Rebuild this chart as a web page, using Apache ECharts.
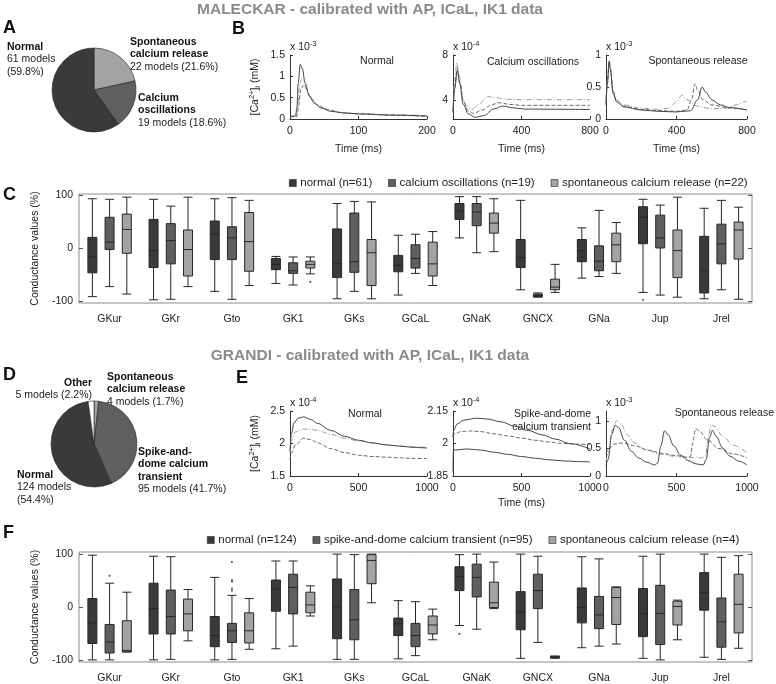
<!DOCTYPE html>
<html><head><meta charset="utf-8">
<script src="https://cdn.jsdelivr.net/npm/echarts@6/dist/echarts.min.js"></script>
<style>html,body{margin:0;padding:0;background:#fff}#c{width:776px;height:684px}</style>
</head><body><div id="c"></div><script>
const FONT = '"Liberation Sans", Arial, sans-serif';

// ---------------- DATA ----------------
// Pie A (MALECKAR)
const pieANames = ['Spontaneous calcium release', 'Calcium oscillations', 'Normal'];
const pieACounts = [22, 19, 61];
const pieAPct = [21.6, 18.6, 59.8];
// Pie D (GRANDI)
const pieDNames = ['Spontaneous calcium release', 'Spike-and-dome calcium transient', 'Normal', 'Other'];
const pieDCounts = [4, 95, 124, 5];
const pieDPct = [1.7, 41.7, 54.4, 2.2];

// Conductances (boxplots)
const conductances = ['GKur', 'GKr', 'Gto', 'GK1', 'GKs', 'GCaL', 'GNaK', 'GNCX', 'GNa', 'Jup', 'Jrel'];
const malGroupNames = ['normal (n=61)', 'calcium oscillations (n=19)', 'spontaneous calcium release (n=22)'];
// [min, Q1, median, Q3, max]
const malNormal = [[-91,-46,-16,21,94],[-97,-36,-4,55,93],[-81,-21,27,52,94],[-66,-40,-30,-19,-15],[-95,-55,-29,37,85],[-88,-44,-32,-13,25],[20,55,71,85,98],[-78,-36,-17,17,91],[-56,-25,-4,17,39],[-83,9,59,79,93],[-95,-84,-42,23,76]];
const malOsc = [[-72,-2,12,59,93],[-96,-29,15,47,80],[-96,-21,20,41,96],[-69,-47,-42,-27,-16],[-81,-45,-25,67,89],[-47,-37,-19,7,27],[-8,43,69,85,98],[-92,-91,-89,-86,-84],[-53,-42,-24,5,72],[-88,1,20,63,82],[-78,-29,9,46,91]];
const malSpont = [[-86,-9,36,65,97],[-72,-52,-2,35,97],[-70,-43,13,68,91],[-48,-37,-30,-24,-16],[-95,-70,-8,17,88],[-70,-52,-29,12,32],[-6,29,48,67,94],[-83,-78,-73,-58,-30],[-47,-25,7,29,49],[-92,-55,-4,35,97],[-96,-20,35,50,78]];
// outliers: [conductance index, group index, value]
const malOutliers = [[3,2,-63],[9,0,-97]];

const graGroupNames = ['normal (n=124)', 'spike-and-dome calcium transient (n=95)', 'spontaneous calcium release (n=4)'];
const graNormal = [[-100,-69,-30,16,98],[-100,-51,-3,45,96],[-100,-75,-54,-18,56],[-79,-8,34,51,87],[-99,-60,0,53,100],[-98,-54,-32,-21,12],[-35,31,58,76,99],[-97,-43,-10,29,100],[-77,-30,-1,36,95],[-97,-56,-13,35,96],[-95,-6,27,65,100]];
const graSpike = [[-100,-87,-66,-33,45],[-99,-51,-18,32,95],[-99,-67,-45,-31,22],[-74,-13,37,62,87],[-99,-62,-24,33,99],[-92,-75,-54,-31,10],[-42,19,56,81,100],[-67,-3,31,62,96],[-74,-41,-15,20,91],[-100,-71,-12,41,100],[-99,-76,-28,17,94]];
const graSpont = [[-85,-85,-82,-26,28],[-64,-45,-13,15,33],[-80,-68,-45,-11,16],[-17,-11,4,28,40],[8,44,88,99,100],[-62,-51,-34,-17,-4],[-3,-1,8,47,85],[-97,-96,-95,-93,-93],[-70,-33,18,37,38],[-62,-34,1,11,13],[-78,-49,5,62,97]];
const graOutliers = [[0,1,59],[2,1,85],[2,1,51],[2,1,48],[2,1,35],[2,1,31],[6,0,-51]];

// Calcium transients: [time ms, value]
// B1 Normal (x1e-3 mM)
const b1Solid = [[0,0.06],[8,0.07],[10,0.25],[12,0.85],[15,1.28],[18,1.18],[22,0.85],[28,0.55],[35,0.38],[45,0.26],[60,0.18],[80,0.14],[100,0.12],[150,0.09],[200,0.07]];
const b1DashDot = [[0,0.05],[9,0.06],[11,0.3],[14,0.8],[17,0.93],[20,0.88],[25,0.65],[32,0.45],[40,0.32],[50,0.24],[70,0.16],[100,0.12],[150,0.1],[200,0.08]];
const b1Dashed = [[0,0.05],[10,0.06],[12,0.25],[16,0.7],[19,0.78],[23,0.72],[30,0.5],[40,0.33],[55,0.22],[75,0.15],[100,0.12],[150,0.09],[200,0.06]];
// B2 Calcium oscillations (x1e-4 mM)
const b2DashDot = [[0,3.0],[8,5.5],[22,7.3],[35,6.2],[55,4.2],[80,3.4],[110,3.15],[150,3.6],[200,4.3],[250,4.2],[320,4.05],[400,4.02],[800,4.02]];
const b2Dashed = [[0,3.0],[10,5.2],[25,6.8],[40,5.6],[60,3.9],[90,3.0],[120,2.8],[170,3.1],[230,3.6],[270,3.75],[330,3.6],[400,3.52],[800,3.52]];
const b2Solid = [[0,2.9],[10,5.0],[25,6.6],[40,5.4],[60,3.6],[90,2.75],[130,2.45],[180,2.6],[240,3.2],[290,3.45],[350,3.3],[420,3.18],[800,3.15]];
// B3 Spontaneous release (x1e-3 mM)
const b3DashDot = [[0,0.3],[8,0.6],[18,0.92],[25,0.8],[40,0.45],[60,0.3],[100,0.22],[200,0.17],[300,0.15],[360,0.17],[400,0.27],[430,0.37],[460,0.3],[520,0.2],[600,0.16],[680,0.17],[740,0.22],[790,0.27],[800,0.27]];
const b3Dashed = [[0,0.25],[8,0.6],[18,0.9],[25,0.78],[40,0.42],[60,0.28],[100,0.2],[200,0.15],[300,0.13],[400,0.12],[460,0.14],[485,0.3],[505,0.55],[520,0.45],[550,0.3],[600,0.22],[700,0.17],[800,0.14]];
const b3Solid = [[0,0.22],[8,0.55],[18,0.9],[25,0.77],[40,0.4],[60,0.27],[100,0.19],[200,0.14],[300,0.12],[400,0.11],[480,0.13],[520,0.3],[545,0.5],[565,0.42],[600,0.3],[650,0.22],[700,0.18],[800,0.14]];
// E1 Normal (x1e-4 mM)
const e1Solid = [[0,1.88],[10,2.15],[30,2.32],[60,2.39],[100,2.41],[150,2.37],[200,2.31],[300,2.2],[400,2.11],[500,2.05],[600,2.01],[700,1.98],[800,1.96],[900,1.94],[1000,1.93]];
const e1DashDot = [[0,1.85],[10,2.05],[40,2.18],[100,2.22],[150,2.22],[200,2.2],[300,2.14],[400,2.08],[500,2.04],[600,2.01],[700,1.98],[800,1.96],[900,1.95],[1000,1.94]];
const e1Dashed = [[0,1.75],[10,1.85],[40,1.98],[100,2.08],[150,2.06],[200,2.01],[300,1.92],[400,1.86],[500,1.82],[600,1.8],[700,1.79],[800,1.78],[900,1.77],[1000,1.77]];
// E2 Spike-and-dome (x1e-4 mM)
const e2SolidHigh = [[0,2.03],[5,2.06],[30,2.09],[80,2.108],[170,2.117],[250,2.113],[350,2.1],[450,2.08],[550,2.06],[650,2.04],[750,2.02],[850,2.0],[1000,1.975]];
const e2Dashed = [[0,2.03],[10,2.045],[60,2.055],[120,2.058],[200,2.055],[300,2.045],[400,2.035],[500,2.025],[600,2.015],[700,2.007],[800,2.0],[900,1.997],[1000,1.995]];
const e2SolidLow = [[0,1.87],[3,1.97],[20,1.97],[100,1.975],[200,1.97],[300,1.96],[400,1.95],[500,1.94],[600,1.932],[700,1.925],[800,1.92],[900,1.917],[1000,1.915]];
// E3 Spontaneous release (x1e-3 mM)
const e3Solid = [[0,0.2],[15,0.3],[40,0.75],[65,0.92],[90,0.88],[130,0.65],[180,0.45],[230,0.33],[290,0.25],[345,0.2],[365,0.23],[390,0.55],[415,0.82],[440,0.75],[480,0.55],[530,0.38],[580,0.28],[640,0.22],[690,0.2],[710,0.3],[735,0.7],[755,0.83],[780,0.72],[830,0.5],[880,0.36],[940,0.27],[1000,0.2]];
const e3Dashed = [[0,0.4],[20,0.5],[60,0.58],[120,0.6],[200,0.55],[300,0.47],[400,0.41],[500,0.37],[580,0.34],[600,0.36],[615,0.6],[635,0.86],[660,0.82],[720,0.65],[800,0.5],[900,0.4],[1000,0.33]];
const e3DashDot = [[0,0.25],[20,0.45],[45,0.85],[75,1.0],[105,0.95],[150,0.75],[200,0.6],[280,0.48],[380,0.4],[480,0.36],[580,0.34],[680,0.33],[705,0.36],[725,0.7],[745,0.93],[770,0.9],[830,0.72],[900,0.56],[1000,0.42]];

// ---------------- LAYOUT / STYLE ----------------
const C_DARK = '#3a3a3a', C_MID = '#5f5f5f', C_LIGHT = '#a3a3a3';
const LINE_SOLID = '#454545', LINE_DASH = '#6a6a6a', LINE_DD = '#9a9a9a';
const subX = [290, 453, 606];
const subW = [137, 137, 141];
const gridsLine = [];
[55, 411].forEach(top => subX.forEach((x, i) => gridsLine.push({left: x, top: top, width: subW[i], height: top === 55 ? 64 : 65})));

const grids = [
  {left: 79, right: 24, top: 194, height: 109, show: true, borderColor: '#8c8c8c', borderWidth: 1},
  {left: 79, right: 24, top: 552, height: 110, show: true, borderColor: '#8c8c8c', borderWidth: 1},
  ...gridsLine
];

const xAxes = [], yAxes = [], series = [];

function boxAxes(gi, lim) {
  xAxes.push({gridIndex: gi, type: 'category', data: conductances, axisTick: {show: false},
    axisLine: {show: false}, axisLabel: {fontFamily: FONT, fontSize: 10.5, color: '#222', margin: 11}});
  const yBase = {gridIndex: gi, type: 'value', min: -lim, max: lim, splitLine: {show: false},
    axisLine: {show: false}};
  yAxes.push(Object.assign({}, yBase, {position: 'left',
    name: 'Conductance values (%)', nameLocation: 'middle', nameGap: 30, nameRotate: 90,
    nameTextStyle: {fontFamily: FONT, fontSize: 10.5, color: '#222'},
    axisTick: {show: true, inside: true, length: 4, lineStyle: {color: '#555'}, customValues: [-100, 0, 100]},
    axisLabel: {fontFamily: FONT, fontSize: 10.5, color: '#222', margin: 6, customValues: [-100, 0, 100]}}));
  yAxes.push(Object.assign({}, yBase, {position: 'right',
    axisTick: {show: true, inside: true, length: 4, lineStyle: {color: '#555'}, customValues: [-100, 0, 100]},
    axisLabel: {show: false}}));
}
boxAxes(0, 103);
boxAxes(1, 104);

const boxColors = [C_DARK, C_MID, C_LIGHT];
function addBoxSeries(names, groups, outliers, xi, yi) {
  groups.forEach((g, k) => {
    series.push({type: 'boxplot', name: names[k], xAxisIndex: xi, yAxisIndex: yi, data: g,
      boxWidth: [9, 9], silent: true,
      itemStyle: {color: boxColors[k], borderColor: '#262626', borderWidth: 1}});
  });
  // outliers placed with the same offsets ECharts uses for grouped boxplots
  const gridW = 776 - 79 - 24;
  const band = gridW / conductances.length;
  const avail = band * 0.8 - 2;
  const gap = avail / 3 * 0.3;
  const bw = (avail - gap * 2) / 3;
  [0, 1, 2].forEach(k => {
    const pts = outliers.filter(o => o[1] === k).map(o => [conductances[o[0]], o[2]]);
    if (!pts.length) return;
    series.push({type: 'scatter', xAxisIndex: xi, yAxisIndex: yi, data: pts, symbol: 'circle', symbolSize: 2.2,
      symbolOffset: [bw / 2 - avail / 2 + k * (gap + bw), 0], itemStyle: {color: '#333'}, silent: true});
  });
}
addBoxSeries(malGroupNames, [malNormal, malOsc, malSpont], malOutliers, 0, 0);
addBoxSeries(graGroupNames, [graNormal, graSpike, graSpont], graOutliers, 1, 2);

// line panels
const lineCfg = [
  {xmax: 200, xint: 100, ymin: 0, ymax: 1.5, yt: [0, 0.5, 1, 1.5], time: true, gap: 25, ylab: true, lines: [[b1Dashed, 'dash'], [b1DashDot, 'dd'], [b1Solid, 'solid']]},
  {xmax: 800, xint: 400, ymin: 2.3, ymax: 8, yt: [4, 8], time: true, gap: 25, ylab: false, lines: [[b2DashDot, 'dd'], [b2Dashed, 'dash'], [b2Solid, 'solid']]},
  {xmax: 800, xint: 400, ymin: 0, ymax: 1, yt: [0, 0.5, 1], time: true, gap: 25, ylab: false, lines: [[b3DashDot, 'dd'], [b3Dashed, 'dash'], [b3Solid, 'solid']]},
  {xmax: 1000, xint: 500, ymin: 1.5, ymax: 2.5, yt: [1.5, 2, 2.5], time: false, ylab: true, lines: [[e1Dashed, 'dash'], [e1DashDot, 'dd'], [e1Solid, 'solid']]},
  {xmax: 1000, xint: 500, ymin: 1.85, ymax: 2.15, yt: [1.85, 2, 2.15], time: true, gap: 22, ylab: false, lines: [[e2Dashed, 'dash'], [e2SolidHigh, 'solid'], [e2SolidLow, 'solid']]},
  {xmax: 1000, xint: 500, ymin: 0, ymax: 1.18, yt: [0, 0.5, 1], time: false, ylab: false, lines: [[e3DashDot, 'dd'], [e3Dashed, 'dash'], [e3Solid, 'solid']]}
];
const lineTypes = {
  solid: {type: 'solid', color: LINE_SOLID},
  dash: {type: [4, 2], color: LINE_DASH},
  dd: {type: [5, 2, 1, 2], color: LINE_DD}
};
lineCfg.forEach((c, i) => {
  const gi = 2 + i;
  const xi = xAxes.length, yi = yAxes.length;
  const axLine = {show: true, onZero: false, lineStyle: {color: '#333', width: 1}};
  xAxes.push({gridIndex: gi, type: 'value', min: 0, max: c.xmax, interval: c.xint,
    splitLine: {show: false}, axisLine: axLine,
    axisTick: {inside: true, length: 3, lineStyle: {color: '#333'}},
    axisLabel: {fontFamily: FONT, fontSize: 10.5, color: '#222', margin: 7, formatter: v => String(v)},
    name: c.time ? 'Time (ms)' : '', nameLocation: 'middle', nameGap: c.gap || 22,
    nameTextStyle: {fontFamily: FONT, fontSize: 10.5, color: '#222'}});
  yAxes.push({gridIndex: gi, type: 'value', min: c.ymin, max: c.ymax,
    splitLine: {show: false}, axisLine: axLine,
    axisTick: {inside: true, length: 3, lineStyle: {color: '#333'}, customValues: c.yt},
    axisLabel: {fontFamily: FONT, fontSize: 10.5, color: '#222', margin: 5, customValues: c.yt, formatter: v => String(v)},
    name: c.ylab ? '[Ca{sup|2+}]{sub|i} (mM)' : '', nameLocation: 'middle', nameGap: 28, nameRotate: 90,
    nameTextStyle: {fontFamily: FONT, fontSize: 10.5, color: '#222',
      rich: {sup: {fontSize: 7.5, verticalAlign: 'top', padding: [0, 0, 6, 0], fontFamily: FONT, color: '#222'},
             sub: {fontSize: 7.5, verticalAlign: 'bottom', padding: [4, 0, 0, 0], fontFamily: FONT, color: '#222'}}}});
  c.lines.forEach(([d, t]) => {
    series.push({type: 'line', xAxisIndex: xi, yAxisIndex: yi, data: d, showSymbol: false, silent: true,
      smooth: 0.35, smoothMonotone: 'x', clip: true,
      lineStyle: {width: 1, type: lineTypes[t].type, color: lineTypes[t].color}});
  });
});

// pies
const pieAColors = [C_LIGHT, C_MID, C_DARK];
const pieDColors = [C_LIGHT, C_MID, C_DARK, '#ffffff'];
function pie(names, counts, colors, center, r) {
  return {type: 'pie', center: center, radius: r, startAngle: 90, clockwise: true, silent: true,
    label: {show: false}, labelLine: {show: false},
    itemStyle: {borderColor: '#222', borderWidth: 0.6},
    data: names.map((n, i) => ({name: n, value: counts[i], itemStyle: {color: colors[i]}}))};
}
series.push(pie(pieANames, pieACounts, pieAColors, [94, 90], 42));
series.push(pie(pieDNames, pieDCounts, pieDColors, [94, 444], 43));

// ---------------- TEXT ----------------
const graphic = [];
function txt(x, y, text, opt) {
  graphic.push({type: 'text', x: x, y: y, silent: true,
    style: Object.assign({text: text, font: '10.5px ' + FONT, fill: '#222', verticalAlign: 'middle', textAlign: 'left'}, opt || {})});
}
function letter(x, y, s) { txt(x, y, s, {font: 'bold 18px ' + FONT, fill: '#111'}); }
letter(3, 28, 'A'); letter(232, 29, 'B'); letter(3, 195, 'C');
letter(3, 375, 'D'); letter(236, 378, 'E'); letter(3, 533, 'F');
txt(370, 10, 'MALECKAR - calibrated with AP, ICaL, IK1 data', {font: 'bold 15.5px ' + FONT, fill: '#8a8a8a', textAlign: 'center'});
txt(370, 356, 'GRANDI - calibrated with AP, ICaL, IK1 data', {font: 'bold 15.5px ' + FONT, fill: '#8a8a8a', textAlign: 'center'});

// pie labels built from the data arrays
function pieLabel(x, y, headLines, count, pct, split, align) {
  const countLines = split ? [count + ' models', '(' + pct + '%)'] : [count + ' models (' + pct + '%)'];
  const lines = headLines.map(h => '{b|' + h + '}').concat(countLines);
  txt(x, y, lines.join('\n'), {verticalAlign: 'top', textAlign: align || 'left', lineHeight: 12.3,
    rich: {b: {font: 'bold 10.5px ' + FONT, fill: '#111', lineHeight: 12.3}}});
}
pieLabel(7, 41, ['Normal'], pieACounts[2], pieAPct[2], true);
pieLabel(130, 36, ['Spontaneous', 'calcium release'], pieACounts[0], pieAPct[0], false);
pieLabel(138, 92, ['Calcium', 'oscillations'], pieACounts[1], pieAPct[1], false);

pieLabel(107, 371, ['Spontaneous', 'calcium release'], pieDCounts[0], pieDPct[0], false);
pieLabel(92, 377, ['Other'], pieDCounts[3], pieDPct[3], false, 'right');
pieLabel(138, 446, ['Spike-and-', 'dome calcium', 'transient'], pieDCounts[1], pieDPct[1], false);
pieLabel(17, 469, ['Normal'], pieDCounts[2], pieDPct[2], true);

// subplot titles
txt(377, 61, 'Normal', {textAlign: 'center'});
txt(533, 62, 'Calcium oscillations', {textAlign: 'center'});
txt(698, 61, 'Spontaneous release', {textAlign: 'center'});
txt(365, 414, 'Normal', {textAlign: 'center'});
txt(591, 414, 'Spike-and-dome', {textAlign: 'right'});
txt(591, 427, 'calcium transient', {textAlign: 'right'});
txt(774, 413, 'Spontaneous release', {textAlign: 'right'});
// exponents
const expRich = {s: {font: '7.5px ' + FONT, fill: '#222', padding: [0, 0, 7, 0]}};
[[subX[0], 47, '-3'], [subX[1], 47, '-4'], [subX[2], 47, '-3'], [subX[0], 403, '-4'], [subX[1], 403, '-4'], [subX[2], 403, '-3']]
  .forEach(([x, y, e]) => txt(x, y, 'x 10{s|' + e + '}', {rich: expRich}));

function legendData(names) {
  return names.map((n, k) => ({name: n, itemStyle: {color: boxColors[k], borderColor: '#262626', borderWidth: 0.6}}));
}
const legendBase = {itemWidth: 7, itemHeight: 7, itemGap: 16, icon: 'rect', selectedMode: false,
  textStyle: {fontFamily: FONT, fontSize: 11.5, color: '#222', padding: [0, 0, 0, -1]}};

const option = {
  animation: false,
  backgroundColor: '#fff',
  textStyle: {fontFamily: FONT},
  grid: grids,
  xAxis: xAxes,
  yAxis: yAxes,
  legend: [
    Object.assign({data: legendData(malGroupNames), left: 284, top: 172}, legendBase),
    Object.assign({data: legendData(graGroupNames), left: 202, top: 529}, legendBase)
  ],
  series: series,
  graphic: graphic
};
const chart = echarts.init(document.getElementById('c'));
chart.setOption(option);
</script></body></html>
